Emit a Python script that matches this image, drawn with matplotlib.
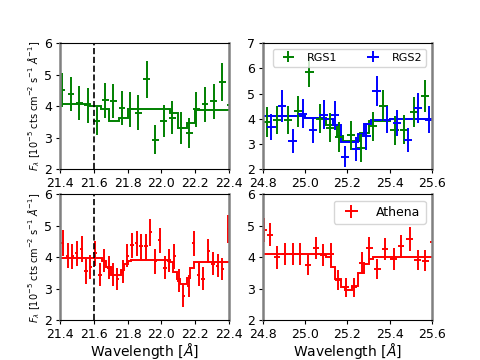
import matplotlib
matplotlib.use("Agg")
import matplotlib.pyplot as plt
import numpy as np

# ---------------- data ----------------
# Top-left: RGS1 (green), 21.4-22.4
rgs1_a_x = [21.412, 21.465, 21.514, 21.563, 21.617, 21.667, 21.715, 21.766, 21.815, 21.862,
            21.912, 21.963, 22.014, 22.065, 22.113, 22.164, 22.207, 22.258, 22.309, 22.360, 22.410]
rgs1_a_y = [4.51, 4.38, 4.10, 4.03, 3.53, 4.19, 4.16, 3.95, 3.90, 3.79,
            4.85, 2.94, 3.53, 3.64, 3.31, 3.15, 3.90, 4.06, 4.16, 4.77, 4.05]
rgs1_a_e = [0.55, 0.54, 0.54, 0.55, 0.44, 0.55, 0.55, 0.54, 0.55, 0.55,
            0.60, 0.46, 0.50, 0.53, 0.50, 0.48, 0.56, 0.56, 0.56, 0.61, 0.55]
mod1_a_edges = [21.40, 21.58, 21.64, 21.69, 21.75, 21.80, 21.99, 22.05, 22.10, 22.15, 22.20, 22.40]
mod1_a_vals = [4.06, 4.02, 3.90, 3.53, 3.64, 3.92, 3.90, 3.80, 3.30, 3.47, 3.88]

# Top-right: RGS1 (green) and RGS2 (blue), 24.8-25.6
rgs1_b_x = [24.820, 24.867, 24.918, 24.968, 25.020, 25.070, 25.118, 25.162, 25.216, 25.266,
            25.319, 25.370, 25.423, 25.467, 25.514, 25.566, 25.615]
rgs1_b_y = [3.87, 3.94, 3.94, 4.30, 5.87, 4.00, 3.64, 3.28, 3.34, 2.85,
            3.70, 4.52, 3.54, 3.57, 4.27, 4.90, 3.94]
rgs1_b_e = [0.58, 0.55, 0.56, 0.61, 0.62, 0.58, 0.58, 0.58, 0.57, 0.55,
            0.57, 0.61, 0.58, 0.57, 0.61, 0.63, 0.58]
rgs2_b_x = [24.840, 24.890, 24.940, 24.988, 25.038, 25.087, 25.140, 25.189, 25.240, 25.290,
            25.338, 25.388, 25.435, 25.486, 25.533, 25.585]
rgs2_b_y = [3.68, 4.52, 3.12, 4.20, 3.54, 4.17, 4.14, 2.50, 2.80, 3.30,
            5.10, 3.97, 3.83, 3.15, 4.43, 3.97]
rgs2_b_e = [0.53, 0.63, 0.48, 0.58, 0.52, 0.58, 0.57, 0.43, 0.47, 0.52,
            0.60, 0.55, 0.53, 0.47, 0.58, 0.53]
mod1_b_edges = [24.80, 25.00, 25.10, 25.15, 25.18, 25.26, 25.30, 25.40, 25.60]
mod1_b_vals = [4.10, 4.05, 3.75, 3.30, 3.10, 3.45, 3.90, 4.00]
mod2_b_edges = [24.80, 25.00, 25.09, 25.13, 25.17, 25.25, 25.28, 25.31, 25.40, 25.60]
mod2_b_vals = [4.10, 4.05, 4.00, 3.77, 3.07, 3.40, 3.80, 3.97, 4.00]

# Bottom-left: Athena (red), 21.4-22.4
ath_a_x = [21.416, 21.445, 21.473, 21.498, 21.528, 21.554, 21.580, 21.607, 21.636, 21.662,
           21.690, 21.715, 21.740, 21.770, 21.798, 21.825, 21.853, 21.880, 21.908, 21.935,
           21.963, 21.990, 22.020, 22.045, 22.077, 22.104, 22.130, 22.160, 22.190, 22.220,
           22.246, 22.278, 22.305, 22.333, 22.360, 22.395]
ath_a_y = [4.45, 4.06, 4.03, 4.13, 4.27, 3.56, 3.70, 4.13, 3.45, 3.90,
           3.67, 3.45, 3.32, 3.55, 4.06, 4.38, 4.45, 4.35, 4.35, 4.80,
           3.87, 4.54, 3.67, 3.90, 4.03, 3.26, 2.78, 3.10, 4.45, 3.45,
           3.32, 4.19, 3.80, 3.74, 3.63, 4.90]
ath_a_e = [0.42, 0.39, 0.40, 0.40, 0.41, 0.39, 0.37, 0.40, 0.37, 0.37,
           0.37, 0.36, 0.35, 0.37, 0.38, 0.40, 0.40, 0.40, 0.40, 0.43,
           0.40, 0.39, 0.37, 0.37, 0.39, 0.37, 0.34, 0.35, 0.40, 0.36,
           0.37, 0.38, 0.37, 0.36, 0.36, 0.45]
mod_ath_a_edges = [21.40, 21.65, 21.67, 21.70, 21.76, 21.78, 21.80, 21.82, 22.05, 22.07,
                   22.09, 22.11, 22.15, 22.17, 22.19, 22.40]
mod_ath_a_vals = [3.97, 3.90, 3.70, 3.45, 3.60, 3.80, 3.88, 3.92, 3.85, 3.55,
                  3.30, 3.15, 3.35, 3.65, 3.85]

# Bottom-right: Athena (red), 24.8-25.6
ath_b_x = [24.803, 24.832, 24.867, 24.903, 24.940, 24.974, 25.014, 25.050, 25.085, 25.120,
           25.157, 25.193, 25.230, 25.270, 25.304, 25.342, 25.378, 25.418, 25.454, 25.494,
           25.532, 25.569, 25.605]
ath_b_y = [4.86, 4.72, 4.00, 4.11, 4.11, 4.11, 3.76, 4.29, 4.08, 4.11,
           3.28, 3.05, 3.05, 3.81, 4.29, 3.62, 4.26, 3.94, 4.35, 4.58,
           3.92, 3.90, 4.50]
ath_b_e = [0.38, 0.37, 0.36, 0.36, 0.36, 0.36, 0.33, 0.35, 0.35, 0.36,
           0.32, 0.30, 0.30, 0.35, 0.36, 0.32, 0.35, 0.35, 0.36, 0.37,
           0.33, 0.34, 0.37]
mod_ath_b_edges = [24.80, 25.10, 25.12, 25.14, 25.17, 25.19, 25.22, 25.25, 25.28, 25.30,
                   25.32, 25.60]
mod_ath_b_vals = [4.10, 4.02, 3.70, 3.30, 3.05, 2.95, 3.10, 3.50, 3.80, 3.95, 4.00]

ylabel = r"$F_\lambda$ [10$^{-5}$ cts cm$^{-2}$ s$^{-1}$ $\AA^{-1}$]"

# ---------------- plot ----------------
fig, axes = plt.subplots(2, 2, figsize=(4.8, 3.6), dpi=100)
(ax1, ax2), (ax3, ax4) = axes

ekw = dict(fmt='none', elinewidth=1.4, capsize=0)

ax1.errorbar(rgs1_a_x, rgs1_a_y, yerr=rgs1_a_e, xerr=0.02, ecolor='green', **ekw)
ax1.stairs(mod1_a_vals, mod1_a_edges, color='green', lw=1.4, baseline=None)
ax1.axvline(21.6, color='black', ls='--', lw=1.2)
ax1.set_xlim(21.4, 22.4)
ax1.set_ylim(2, 6)

ax2.errorbar(rgs1_b_x, rgs1_b_y, yerr=rgs1_b_e, xerr=0.02, ecolor='green', label='RGS1', **ekw)
ax2.errorbar(rgs2_b_x, rgs2_b_y, yerr=rgs2_b_e, xerr=0.02, ecolor='blue', label='RGS2', **ekw)
ax2.stairs(mod1_b_vals, mod1_b_edges, color='green', lw=1.4, baseline=None)
ax2.stairs(mod2_b_vals, mod2_b_edges, color='blue', lw=1.4, baseline=None)
ax2.set_xlim(24.8, 25.6)
ax2.set_ylim(2, 7)
ax2.legend(loc='upper right', ncol=2, fontsize=8, borderpad=0.35, handletextpad=0.7,
           columnspacing=2.2)

ax3.errorbar(ath_a_x, ath_a_y, yerr=ath_a_e, xerr=0.01, ecolor='red', **ekw)
ax3.stairs(mod_ath_a_vals, mod_ath_a_edges, color='red', lw=1.4, baseline=None)
ax3.axvline(21.6, color='black', ls='--', lw=1.2)
ax3.set_xlim(21.4, 22.4)
ax3.set_ylim(2, 6)

ax4.errorbar(ath_b_x, ath_b_y, yerr=ath_b_e, xerr=0.015, ecolor='red', label='Athena', **ekw)
ax4.stairs(mod_ath_b_vals, mod_ath_b_edges, color='red', lw=1.4, baseline=None)
ax4.set_xlim(24.8, 25.6)
ax4.set_ylim(2, 6)
ax4.legend(loc='upper right', fontsize=9, borderpad=0.4, handletextpad=1.0)

for ax in (ax1, ax3):
    ax.set_xticks([21.4, 21.6, 21.8, 22.0, 22.2, 22.4])
    ax.set_ylabel(ylabel, fontsize=7, labelpad=2)
for ax in (ax2, ax4):
    ax.set_xticks([24.8, 25.0, 25.2, 25.4, 25.6])
for ax in (ax1, ax2, ax3, ax4):
    ax.tick_params(labelsize=9, length=3, pad=2.5)
    for s in ('left', 'right'):
        ax.spines[s].set_color('grey')
        ax.spines[s].set_linewidth(1.8)
ax3.set_xlabel(r"Wavelength [$\AA$]", fontsize=10, labelpad=0)
ax4.set_xlabel(r"Wavelength [$\AA$]", fontsize=10, labelpad=0)

fig.savefig("out.png")
